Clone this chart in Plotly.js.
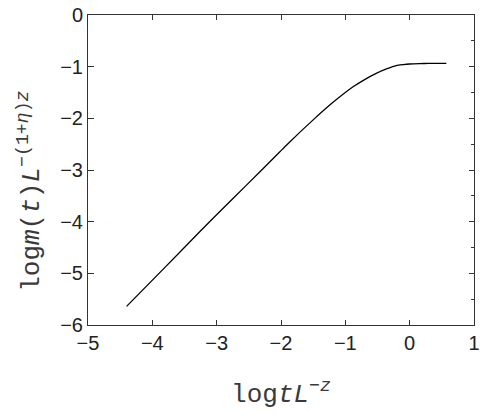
<!DOCTYPE html>
<html>
<head>
<meta charset="utf-8">
<script src="https://cdn.plot.ly/plotly-3.0.1.min.js"></script>
<style>html,body{margin:0;padding:0;background:#fff;}#chart{width:485px;height:415px;}</style>
</head>
<body>
<div id="chart"></div>
<script>
// Curve
const logTL = [-4.40, -3.80, -3.26, -2.77, -2.30, -1.90, -1.50, -1.20, -0.88, -0.70, -0.52, -0.35, -0.21, -0.10, 0.00, 0.15, 0.30, 0.45, 0.57];
const logML = [-5.64, -4.88, -4.19, -3.58, -3.00, -2.50, -2.03, -1.70, -1.39, -1.25, -1.13, -1.04, -0.98, -0.96, -0.948, -0.940, -0.937, -0.935, -0.935];

const xTicks = [-5, -4, -3, -2, -1, 0, 1];
const yTicks = [-6, -5, -4, -3, -2, -1, 0];
const fmt = v => (v < 0 ? '\u2212' + Math.abs(v) : String(v));

const xTitle = 'log<i>tL</i><sup>−<i>z</i></sup>';
const yTitle = 'log<i>m</i>(<i>t</i>)<i>L</i><sup>−(1+<i>η</i>)<i>z</i></sup>';

const axisColor = '#333';
const tickFont = {family: 'Liberation Sans, Arial, sans-serif', size: 20, color: '#222'};
const titleFont = {family: 'Liberation Mono, Courier New, monospace', size: 26, color: '#3a3a3a'};

const data = [{
  x: logTL, y: logML, type: 'scatter', mode: 'lines',
  line: {color: '#000', width: 1.3, shape: 'spline', smoothing: 0.6},
  hoverinfo: 'skip'
}, {
  x: [logTL[0]], y: [logML[0]], yaxis: 'y2', type: 'scatter', mode: 'none', hoverinfo: 'skip'
}];

const layout = {
  width: 485, height: 415,
  margin: {l: 88, r: 11, t: 15, b: 90},
  paper_bgcolor: '#fff', plot_bgcolor: '#fff',
  showlegend: false,
  xaxis: {
    range: [-5, 1], tickvals: xTicks, ticktext: xTicks.map(fmt),
    ticks: 'inside', ticklen: 5, tickcolor: axisColor, tickwidth: 1,
    showline: true, linecolor: axisColor, linewidth: 1, mirror: 'ticks',
    showgrid: false, zeroline: false,
    tickfont: tickFont,
    title: {text: xTitle, font: titleFont, standoff: 30}
  },
  yaxis: {
    range: [-6, 0], tickvals: yTicks, ticktext: yTicks.map(fmt),
    ticks: 'inside', ticklen: 6, tickcolor: axisColor, tickwidth: 1,
    showline: true, linecolor: axisColor, linewidth: 1, mirror: true,
    showgrid: false, zeroline: false,
    tickfont: tickFont
  },
  yaxis2: {
    overlaying: 'y', side: 'right', range: [-6, 0], tickvals: yTicks,
    ticks: 'inside', ticklen: 5, tickcolor: axisColor, tickwidth: 1,
    showticklabels: false, showline: false, showgrid: false, zeroline: false,
    minor: {ticks: 'inside', ticklen: 3, tickcolor: axisColor, dtick: 0.5, tick0: 0, showgrid: false}
  },
  annotations: [{
    text: yTitle, font: titleFont, textangle: -90,
    xref: 'paper', yref: 'paper', x: -0.150, y: 0.43,
    xanchor: 'center', yanchor: 'middle', showarrow: false
  }]
};

Plotly.newPlot('chart', data, layout, {displayModeBar: false, staticPlot: true});
</script>
</body>
</html>
